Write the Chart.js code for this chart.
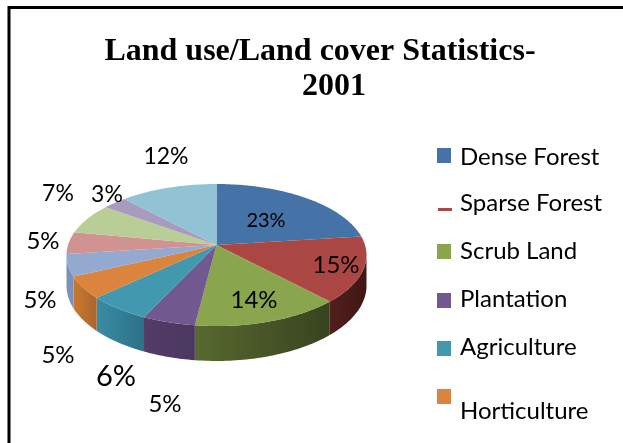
<!DOCTYPE html>
<html>
<head>
<meta charset="utf-8">
<title>Land use/Land cover Statistics-2001</title>
<script src="https://cdn.jsdelivr.net/npm/chart.js@4"></script>
<style>
  html, body { margin: 0; padding: 0; background: #fff; overflow: hidden; }
  #wrap { position: absolute; left: 0; top: 0; width: 623px; height: 443px; }
</style>
</head>
<body>
<div id="wrap"><canvas id="landChart" width="623" height="443"></canvas></div>
<script>
// only the first six classes appear in the key
const categories = ['Dense Forest', 'Sparse Forest', 'Scrub Land', 'Plantation', 'Agriculture', 'Horticulture'];
const shares = [23, 15, 14, 5, 6, 5, 5, 5, 7, 3, 12];
const topColors = ['#4573a7', '#aa4643', '#89a54e', '#71588f', '#4198af', '#db843d',
                   '#93a9cf', '#d19392', '#b9cd96', '#a99bbd', '#92c3d4'];
// rim shading of each slice, right end and left end
const wallRight = ['#2c4a6c', '#3f1614', '#38431f', '#4b3860', '#2b7187', '#a9652d',
                   '#7a92bb', '#b57a79', '#9fb57c', '#8d7fa3', '#79aabc'];
const wallLeft = ['#2c4a6c', '#521f1c', '#58692f', '#513c68', '#3a8ca5', '#c97a31',
                  '#7a92bb', '#b57a79', '#9fb57c', '#8d7fa3', '#79aabc'];
const titleLines = ['Land use/Land cover Statistics-', '2001'];

// pie tilt: perspective of the disc and height of its rim
const pie = { cx: 216.5, cy: 245, rx: 148.5, ry: 69.6, k: 0.141, depth: 30 };

// where each percent label sits and how big it is, in slice order
const labelSpots = [
  [266, 221, 20], [336, 265, 24], [254, 300, 24], [165, 404, 24], [116, 377, 29], [58, 355, 24],
  [40, 300, 24], [43, 241, 24], [58, 194, 23], [107, 195, 23], [166, 157, 23]
];
const keyRows = [
  { swatch: 'box', boxY: 148, textY: 157 },
  { swatch: 'line', boxY: 208, textY: 203 },
  { swatch: 'box', boxY: 244, textY: 251 },
  { swatch: 'box', boxY: 293, textY: 299 },
  { swatch: 'box', boxY: 341, textY: 347 },
  { swatch: 'box', boxY: 389, textY: 411 }
];

// chart angle -> point on the tilted disc
function project(angle) {
  const u = Math.cos(angle);
  const v = Math.sin(angle);
  const w = 1 - pie.k * v;
  return { x: pie.cx + pie.rx * u / w, y: pie.cy + pie.ry * v / w, w: w };
}

function edgePoints(start, end) {
  const steps = Math.max(2, Math.ceil((end - start) / 0.02));
  const points = [];
  for (let i = 0; i <= steps; i++) {
    points.push(project(start + (end - start) * i / steps));
  }
  return points;
}

// rim first (visible front part only), then the top faces, all from the arc elements
const tiltedPie = {
  id: 'tiltedPie',
  beforeDatasetDraw(chart) {
    const ctx = chart.ctx;
    const arcs = chart.getDatasetMeta(0).data;
    arcs.forEach((arc, i) => {
      const from = Math.max(arc.startAngle, pie.k);
      const to = Math.min(arc.endAngle, Math.PI - pie.k);
      if (to <= from) return;
      const rim = edgePoints(from, to);
      const grad = ctx.createLinearGradient(rim[0].x, 0, rim[rim.length - 1].x, 0);
      grad.addColorStop(0, wallRight[i]);
      grad.addColorStop(1, wallLeft[i]);
      ctx.beginPath();
      rim.forEach((p) => ctx.lineTo(p.x, p.y + pie.depth / p.w));
      rim.reverse().forEach((p) => ctx.lineTo(p.x, p.y));
      ctx.closePath();
      ctx.fillStyle = grad;
      ctx.fill();
    });
    arcs.forEach((arc, i) => {
      ctx.beginPath();
      ctx.moveTo(pie.cx, pie.cy);
      edgePoints(arc.startAngle, arc.endAngle).forEach((p) => ctx.lineTo(p.x, p.y));
      ctx.closePath();
      ctx.fillStyle = topColors[i];
      ctx.fill();
    });
    return false;
  },
  afterDraw(chart) {
    const ctx = chart.ctx;
    ctx.textBaseline = 'middle';
    // percent labels
    ctx.fillStyle = '#000';
    ctx.textAlign = 'center';
    shares.forEach((v, i) => {
      const [x, y, size] = labelSpots[i];
      ctx.font = size + 'px Lato';
      ctx.fillText(v + '%', x, y);
    });
    // key
    ctx.textAlign = 'left';
    ctx.font = '24px Lato';
    categories.forEach((name, i) => {
      const row = keyRows[i];
      ctx.fillStyle = topColors[i];
      if (row.swatch === 'box') ctx.fillRect(437, row.boxY, 14, 15);
      else ctx.fillRect(438, row.boxY, 14, 3);
      ctx.fillStyle = '#000';
      ctx.fillText(name, 460, row.textY);
    });
    // heading
    ctx.font = 'bold 32px "Liberation Serif"';
    ctx.textAlign = 'center';
    ctx.textBaseline = 'alphabetic';
    ctx.fillText(titleLines[0], 320, 60);
    ctx.fillText(titleLines[1], 334, 95);
    // frame runs off the right and bottom of the page
    ctx.strokeStyle = '#000';
    ctx.lineWidth = 3;
    ctx.strokeRect(9, 7.5, 640, 460);
  }
};

new Chart(document.getElementById('landChart'), {
  type: 'pie',
  data: {
    labels: categories,
    datasets: [{ data: shares, backgroundColor: topColors, borderWidth: 0 }]
  },
  options: {
    responsive: false,
    animation: false,
    plugins: { legend: { display: false }, tooltip: { enabled: false } }
  },
  plugins: [tiltedPie]
});
</script>
</body>
</html>
